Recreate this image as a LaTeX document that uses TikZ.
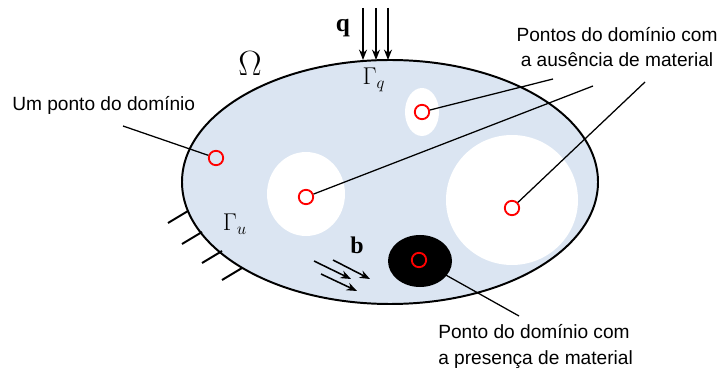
\documentclass[tikz,border=0pt]{standalone}
\usepackage{fontspec}
\setmainfont{Liberation Sans}
\newfontfamily\tmsfont{Liberation Serif}
\usetikzlibrary{arrows.meta, positioning, calc}
\definecolor{DomainBlue}{rgb}{0.86, 0.90, 0.95}
\definecolor{PointRed}{rgb}{1.0, 0.0, 0.0}

\begin{document}
\begin{tikzpicture}[
    x=0.025cm, y=-0.025cm,
    font=\fontsize{13.6}{18.4}\selectfont,
    pt/.style={circle, draw=PointRed, line width=1.3pt, minimum size=0.36cm, inner sep=0pt},
    lead/.style={line width=0.9pt, black},
    load/.style={-{Stealth[length=2.6mm, width=2mm]}, line width=1.1pt},
    fix/.style={line width=1.4pt},
    lbl/.style={align=left, inner sep=0pt},
    sym/.style={inner sep=0pt},
]
\useasboundingbox (0,0) rectangle (722,373);

% ---- dominio ----
\fill[DomainBlue] (390,182) ellipse [x radius=208, y radius=122];
\fill[white] (422,112) ellipse [x radius=17, y radius=24];
\fill[white] (306,194) ellipse [x radius=39, y radius=42];
\fill[white] (512,200) ellipse [x radius=66, y radius=65];
\fill[black] (420,261) ellipse [x radius=32, y radius=26];
\draw[line width=1.4pt] (390,182) ellipse [x radius=208, y radius=122];

% ---- pontos ----
\node[pt] (p0) at (216,158) {};
\node[pt] (p1) at (422,112) {};
\node[pt] (p2) at (306,197) {};
\node[pt] (p3) at (512,208) {};
\node[pt] (p4) at (419,260) {};

% ---- rotulos ----
\node[lbl, anchor=west] (l0) at (12,105) {Um ponto do domínio};
\node[lbl, align=center] (l1) at (617,47) {Pontos do domínio com\\a ausência de material};
\node[lbl, anchor=north west] (l2) at (438,324) {Ponto do domínio com\\a presença de material};

\coordinate (c0) at (123,126);
\coordinate (c1) at (553,79);
\coordinate (c2) at (593,86);
\coordinate (c3) at (645,82);
\coordinate (c4) at (519,316);
\draw[lead] (p0) -- (c0);
\draw[lead] (p1) -- (c1);
\draw[lead] (p2) -- (c2);
\draw[lead] (p3) -- (c3);
\draw[lead] (p4) -- (c4);

% ---- carga q ----
\foreach \x [count=\i] in {363,376,388} {
    \coordinate (qa\i) at (\x,8);
    \coordinate (qb\i) at (\x,60);
    \draw[load] (qa\i) -- (qb\i);
}
\node[sym] (q) at (343,28) {\fontsize{18}{18}\selectfont\tmsfont\bfseries q};
\node[sym] (gq) at (374,80) {\fontsize{17}{17}\selectfont$\Gamma_{q}$};
\node[sym] (om) at (250,64) {\fontsize{23}{23}\selectfont$\Omega$};

% ---- forca de corpo b ----
\coordinate (ba1) at (314,261); \coordinate (bb1) at (351,279);
\coordinate (ba2) at (333,260); \coordinate (bb2) at (370,279);
\coordinate (ba3) at (321,274); \coordinate (bb3) at (357,291);
\foreach \i in {1,2,3} \draw[load] (ba\i) -- (bb\i);
\node[sym] (b) at (357,245) {\fontsize{17}{17}\selectfont\tmsfont\bfseries b};

% ---- contorno fixo ----
\foreach \xa/\ya [count=\i] in {188/211, 202/232, 222/251, 242/268} {
    \coordinate (fa\i) at (\xa,\ya);
    \coordinate (fb\i) at ($(\xa,\ya)+(-20,12)$);
    \draw[fix] (fa\i) -- (fb\i);
}
\node[sym] (gu) at (235,224) {\fontsize{17}{17}\selectfont$\Gamma_{u}$};

\end{tikzpicture}
\end{document}
